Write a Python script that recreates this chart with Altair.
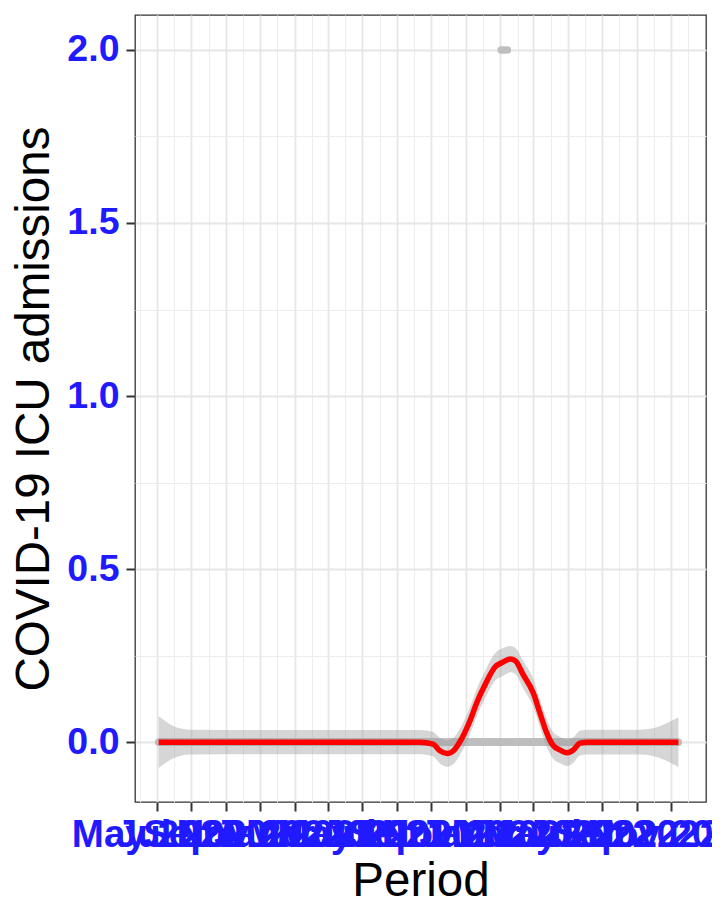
import altair as alt
import pandas as pd

# ---------------- data ----------------
obs_start = "2020-05-04"          # daily observations
obs_end = "2022-11-14"
spike_dates = ["2022-01-03", "2022-01-08", "2022-01-14"]   # days with 2 ICU admissions
spike_value = 2

smooth_dates = ["2020-05-04", "2020-05-15", "2020-05-28", "2020-06-11", "2020-06-29",
                "2021-01-10", "2021-08-12", "2021-09-04", "2021-09-16", "2021-09-29",
                "2021-10-08", "2021-10-25", "2021-11-09", "2021-11-21", "2021-12-05",
                "2021-12-23", "2022-01-06", "2022-01-19", "2022-01-28", "2022-02-11",
                "2022-03-01", "2022-03-13", "2022-03-25", "2022-04-05", "2022-04-18",
                "2022-04-30", "2022-05-11", "2022-05-23", "2022-06-05", "2022-09-07",
                "2022-09-30", "2022-10-25", "2022-11-14"]
smooth_fit = [0, 0, 0, 0, 0,
              0, 0, -0.006, -0.025, -0.033,
              -0.028, 0.011, 0.064, 0.116, 0.165,
              0.217, 0.231, 0.240, 0.235, 0.195,
              0.142, 0.083, 0.026, -0.009, -0.023,
              -0.031, -0.023, -0.003, 0, 0,
              0, 0, 0]
smooth_lower = [-0.075, -0.062, -0.048, -0.040, -0.036,
                -0.035, -0.035, -0.041, -0.062, -0.071,
                -0.066, -0.027, 0.024, 0.076, 0.125,
                0.177, 0.191, 0.202, 0.197, 0.155,
                0.102, 0.043, -0.014, -0.047, -0.061,
                -0.069, -0.060, -0.039, -0.036, -0.036,
                -0.040, -0.055, -0.072]
smooth_upper = [0.075, 0.062, 0.048, 0.040, 0.036,
                0.035, 0.035, 0.029, 0.012, 0.005,
                0.010, 0.049, 0.104, 0.156, 0.205,
                0.257, 0.271, 0.278, 0.273, 0.235,
                0.182, 0.123, 0.066, 0.029, 0.015,
                0.007, 0.014, 0.033, 0.036, 0.036,
                0.040, 0.055, 0.072]

major_x_ticks = ["2020-05-01", "2020-07-01", "2020-09-01", "2020-11-01",
                 "2021-01-01", "2021-03-01", "2021-05-01", "2021-07-01",
                 "2021-09-01", "2021-11-01", "2022-01-01", "2022-03-01",
                 "2022-05-01", "2022-07-01", "2022-09-01", "2022-11-01"]
minor_x_ticks = ["2020-04-01", "2020-06-01", "2020-08-01", "2020-10-01",
                 "2020-12-01", "2021-02-01", "2021-04-01", "2021-06-01",
                 "2021-08-01", "2021-10-01", "2021-12-01", "2022-02-01",
                 "2022-04-01", "2022-06-01", "2022-08-01", "2022-10-01",
                 "2022-12-01"]
x_domain = ["2020-03-23", "2023-01-02"]
y_major = [0, 0.5, 1.0, 1.5, 2.0]
y_minor = [0.25, 0.75, 1.25, 1.75]
y_domain = [-0.173, 2.101]

# ---------------- tables ----------------
obs_dates = pd.date_range(obs_start, obs_end, freq="D").strftime("%Y-%m-%d").tolist()
obs = pd.DataFrame({
    "Period": obs_dates,
    "ICU": [spike_value if d in spike_dates else 0 for d in obs_dates],
})
smooth = pd.DataFrame({"Period": smooth_dates, "fit": smooth_fit,
                       "lo": smooth_lower, "hi": smooth_upper})


def dt(s):
    y, m, d = (int(v) for v in s.split("-"))
    return alt.DateTime(year=y, month=m, date=d, utc=True)


FONT = "Liberation Sans"
BLUE = "#1f1aff"
xscale = alt.Scale(type="utc", domain=[dt(s) for s in x_domain], nice=False)
yscale = alt.Scale(domain=y_domain, nice=False, zero=False)

major_x_axis = alt.Axis(
    orient="bottom", values=[dt(s) for s in major_x_ticks], format="%b %Y",
    labelFont=FONT, labelFontSize=38.5, labelFontWeight="bold", labelColor=BLUE,
    labelOverlap=False, labelFlush=False, labelBound=False,
    labelBaseline="alphabetic", labelPadding=35,
    tickSize=9, tickWidth=2, tickColor="#333333",
    grid=True, gridColor="#e6e6e6", gridWidth=1.8,
    domain=False,
    title="Period", titleFont=FONT, titleFontSize=47.5, titleFontWeight="normal",
    titleColor="black", titleBaseline="alphabetic", titleY=93,
)
major_y_axis = alt.Axis(
    orient="left", values=y_major, format=".1f",
    labelFont=FONT, labelFontSize=37.5, labelFontWeight="bold", labelColor=BLUE,
    labelPadding=7, labelOverlap=False, labelFlush=False, labelBound=False,
    tickSize=9, tickWidth=2, tickColor="#333333",
    grid=True, gridColor="#e6e6e6", gridWidth=1.8,
    domain=False,
    title="COVID-19 ICU admissions", titleFont=FONT, titleFontSize=47.5,
    titleFontWeight="normal", titleColor="black",
    titleBaseline="alphabetic", titleX=-87,
)
minor_x_axis = alt.Axis(
    orient="top", values=[dt(s) for s in minor_x_ticks], labels=False, ticks=False,
    domain=False, grid=True, gridColor="#ececec", gridWidth=1, title=None,
)
minor_y_axis = alt.Axis(
    orient="right", values=y_minor, labels=False, ticks=False,
    domain=False, grid=True, gridColor="#ececec", gridWidth=1, title=None,
)

points = alt.Chart(obs).mark_circle(size=55, color="#bebebe", opacity=1).encode(
    x=alt.X("Period:T", scale=xscale, axis=major_x_axis),
    y=alt.Y("ICU:Q", scale=yscale, axis=major_y_axis),
)
band = alt.Chart(smooth).mark_area(color="#999999", opacity=0.4, interpolate="monotone").encode(
    x=alt.X("Period:T", scale=xscale, axis=minor_x_axis),
    y=alt.Y("lo:Q", scale=yscale, axis=minor_y_axis),
    y2="hi:Q",
)
line = alt.Chart(smooth).mark_line(color="#ff0000", strokeWidth=5.5, interpolate="monotone").encode(
    x=alt.X("Period:T", scale=xscale, axis=None),
    y=alt.Y("fit:Q", scale=yscale, axis=None),
)

chart = (
    alt.layer(points, band, line)
    .resolve_axis(x="independent", y="independent")
    .properties(
        width=571, height=787,
        autosize=alt.AutoSizeParams(type="none"),
        padding={"left": 127, "top": 7, "right": 6, "bottom": 111},
        background="white",
    )
    .configure_view(stroke="#333333", strokeWidth=1.3)
)

chart.save("out.html", embed_options={"renderer": "svg", "actions": False})
